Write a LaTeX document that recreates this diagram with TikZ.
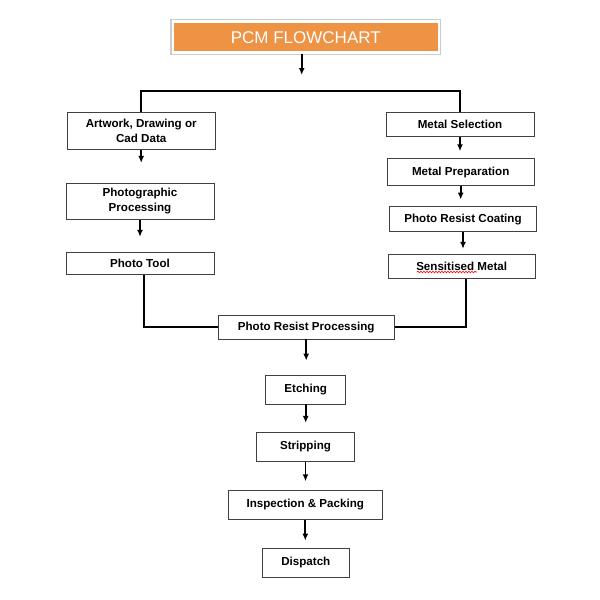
\documentclass[tikz,border=0pt]{standalone}
\usepackage{fontspec}
\setmainfont{Liberation Sans}
\usetikzlibrary{arrows.meta,decorations.pathmorphing}
\definecolor{pcmorange}{RGB}{238,146,68}
\tikzset{
	stepbox/.style={draw=black!75, line width=0.9pt, fill=white, inner sep=0pt, align=center, font=\bfseries\fontsize{11.6}{15}\selectfont},
	titlebox/.style={fill=pcmorange, draw=white, line width=2.5pt, preaction={draw=black!20, line width=5pt}, inner sep=0pt, text=white, font=\fontsize{17}{20}\selectfont},
	arr/.style={-{Latex[length=7pt,width=6pt]}, line width=1.7pt},
	joint/.style={line width=2pt},
}
\begin{document}
\begin{tikzpicture}[x=1pt,y=-1pt]
	\useasboundingbox[fill=white] (0,0) rectangle (600,600);
	
	\node[titlebox, minimum width=266pt, minimum height=31pt] (title) at (305.8,37.2) {PCM FLOWCHART};
	\coordinate (tj) at (301.7,75);
	\coordinate (bar) at (301.7,91);
	
	% left column
	\node[stepbox, minimum width=147.7pt, minimum height=36.7pt] (art) at (141.2,130.7) {Artwork, Drawing or\\Cad Data};
	\node[stepbox, minimum width=148pt, minimum height=36pt] (photo) at (140,201.3) {Photographic\\Processing};
	\node[stepbox, minimum width=148pt, minimum height=22pt] (tool) at (140,263.3) {Photo Tool};
	
	% right column
	\node[stepbox, minimum width=148pt, minimum height=24.4pt] (sel) at (460,124.5) {Metal Selection};
	\node[stepbox, minimum width=146.7pt, minimum height=27.4pt] (prep) at (460.7,172) {Metal Preparation};
	\node[stepbox, minimum width=147.4pt, minimum height=25pt] (coat) at (463,219.2) {Photo Resist Coating};
	\node[stepbox, minimum width=146.7pt, minimum height=24pt] (sens) at (461.7,266.3) {Sensitised Metal};
	
	% centre column
	\node[stepbox, minimum width=175.7pt, minimum height=23.3pt] (prc) at (306.2,327.3) {Photo Resist Processing};
	\node[stepbox, minimum width=80pt, minimum height=29pt] (etch) at (305.7,389.5) {Etching};
	\node[stepbox, minimum width=97.6pt, minimum height=28.7pt] (strip) at (305.5,446.7) {Stripping};
	\node[stepbox, minimum width=154pt, minimum height=29.3pt] (insp) at (305.3,504.7) {Inspection \& Packing};
	\node[stepbox, minimum width=87pt, minimum height=29pt] (disp) at (305.8,562.8) {Dispatch};
	
	\draw[red, line width=0.6pt, decorate, decoration={snake, amplitude=0.8pt, segment length=3pt}] (417,272) -- (477,272);
	
	\draw[arr] (title.south -| tj) -- (tj);
	\draw[joint] (art.north) |- (bar) -| (sel.north);
	
	\draw[arr, shorten >=20pt] (art.south) -- (art.south |- photo.north);
	\draw[arr, shorten >=15pt] (photo.south) -- (photo.south |- tool.north);
	
	\draw[arr, shorten >=6.6pt] (sel.south) -- (sel.south |- prep.north);
	\draw[arr, shorten >=6.7pt] (prep.south) -- (prep.south |- coat.north);
	\draw[arr, shorten >=5pt] (coat.south) -- (coat.south |- sens.north);
	
	\draw[joint] ([xshift=4pt]tool.south) |- (prc.west);
	\draw[joint] ([xshift=4pt]sens.south) |- (prc.east);
	
	\draw[arr, shorten >=14pt] (prc.south) -- (prc.south |- etch.north);
	\draw[arr, shorten >=9pt] (etch.south) -- (etch.south |- strip.north);
	\draw[arr, shorten >=8.3pt] (strip.south) -- (strip.south |- insp.north);
	\draw[arr, shorten >=7.3pt] (insp.south) -- (insp.south |- disp.north);
\end{tikzpicture}
\end{document}
